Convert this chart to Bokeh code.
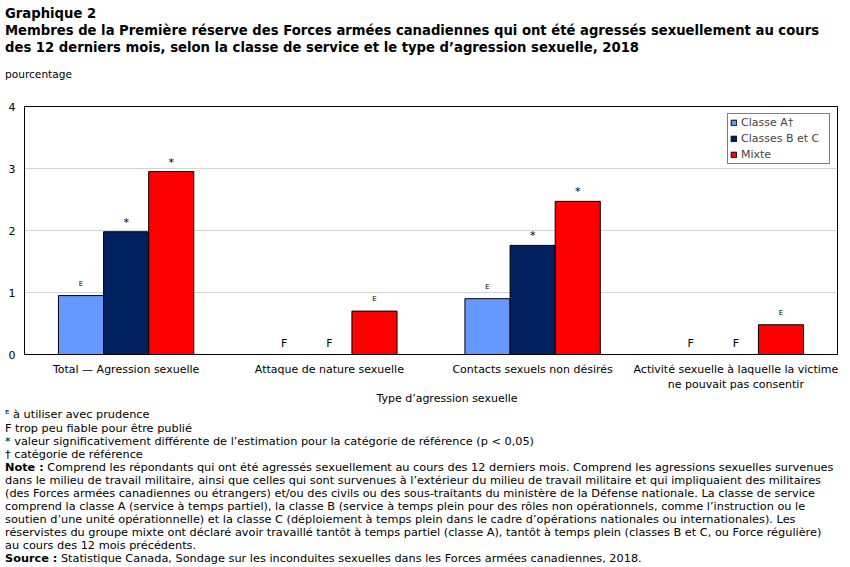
from bokeh.plotting import figure
from bokeh.models import ColumnDataSource, Legend, LegendItem, FactorRange, Div
from bokeh.transform import dodge
from bokeh.layouts import column
from bokeh.core.properties import value
from bokeh.embed import file_html
from bokeh.resources import INLINE
from html import escape
import math

# ---- data ----
categories = ["Total — Agression sexuelle", "Attaque de nature sexuelle",
              "Contacts sexuels non désirés",
              "Activité sexuelle à laquelle la victime\nne pouvait pas consentir"]
series_names = ["Classe A†", "Classes B et C", "Mixte"]
classe_a = [0.95, float("nan"), 0.90, float("nan")]
classes_bc = [1.98, float("nan"), 1.76, float("nan")]
mixte = [2.95, 0.70, 2.47, 0.48]
marks_a = ["E", "F", "E", "F"]
marks_bc = ["*", "F", "*", "F"]
marks_mixte = ["*", "E", "*", "E"]
y_ticks = [0, 1, 2, 3, 4]
x_title = "Type d’agression sexuelle"

colors = ["#6699ff", "#002060", "#ff0000"]
FONT = "DejaVu Sans"
W = 850

TOP_H = 90
MAIN_Y0, MAIN_Y1 = 90, 394
BOT_H = 567 - MAIN_Y1
FRAME_T, FRAME_B = 106, 354

p = figure(width=W, height=MAIN_Y1 - MAIN_Y0, x_range=FactorRange(*categories), y_range=(0, 4),
           output_backend="svg", toolbar_location=None,
           min_border_left=24, min_border_right=13,
           min_border_top=FRAME_T - MAIN_Y0, min_border_bottom=MAIN_Y1 - FRAME_B)
p.outline_line_color = "black"
p.outline_line_width = 1
p.background_fill_color = "white"
p.border_fill_color = "white"

p.xgrid.grid_line_color = None
p.ygrid.grid_line_color = "#d4d4d4"
p.ygrid.ticker = [1, 2, 3]

for ax in (p.xaxis, p.yaxis):
    ax.major_tick_line_color = None
    ax.minor_tick_line_color = None
    ax.major_tick_out = 0
    ax.major_tick_in = 0
    ax.minor_tick_out = 0
    ax.major_label_text_font = FONT
    ax.major_label_text_font_size = "11px"
    ax.major_label_text_color = "black"
    ax.axis_line_color = "black"
p.yaxis.ticker = y_ticks
p.yaxis.major_label_standoff = 9
p.xaxis.major_label_standoff = 8

bw = 0.222
offsets = [-bw, 0.0, bw]
all_vals = [classe_a, classes_bc, mixte]
all_marks = [marks_a, marks_bc, marks_mixte]
mark_style = {"E": ("7px", -8), "*": ("11px", -3), "F": ("11px", -5)}
items = []
for i, (name, vals, marks, col) in enumerate(zip(series_names, all_vals, all_marks, colors)):
    ly = [0 if math.isnan(v) else v for v in vals]
    src = ColumnDataSource(dict(cat=categories, top=vals))
    r = p.vbar(x=dodge("cat", offsets[i], range=p.x_range), top="top", width=bw, source=src,
               fill_color=col, line_color="black", line_width=1)
    items.append(LegendItem(label=name, renderers=[r]))
    for m, (fs, yo) in mark_style.items():
        sel = [k for k, mm in enumerate(marks) if mm == m]
        if not sel:
            continue
        s = ColumnDataSource(dict(cat=[categories[k] for k in sel], ly=[ly[k] for k in sel],
                                  mark=[m] * len(sel)))
        p.text(x=dodge("cat", offsets[i], range=p.x_range), y="ly", text="mark", source=s,
               text_align="center", text_baseline="bottom", y_offset=yo,
               text_font=value(FONT), text_font_size=value(fs), text_color="black")

legend = Legend(items=items, location="top_right", margin=7,
                border_line_color="black", border_line_width=1,
                label_text_font=FONT, label_text_font_size="11px",
                label_text_line_height=1.0,
                glyph_width=7, glyph_height=7, label_height=13, spacing=3,
                padding=2, label_standoff=4, label_width=86, background_fill_alpha=1)
p.add_layout(legend)


def line(x, yc, html_text, size, bold=False, lh=13, width=None, align="left"):
    top = yc - lh / 2
    w = f"width:{width}px;text-align:{align};" if width else ""
    return (f'<div style="position:absolute;left:{x}px;top:{top}px;{w}'
            f'font-family:\'{FONT}\';font-size:{size}px;font-weight:{"bold" if bold else "normal"};'
            f'line-height:{lh}px;white-space:nowrap;color:black;">{html_text}</div>')


def box(h, inner):
    return (f'<div style="position:relative;width:{W}px;height:{h}px;margin:0;padding:0;'
            f'overflow:visible;">{inner}</div>')


top_html = "".join([
    line(5, 13, "Graphique  2", 13.2, True, 15),
    line(5, 30, escape("Membres de la Première réserve des Forces armées canadiennes qui ont été agressés sexuellement au cours"), 13.2, True, 15),
    line(5, 47, escape("des 12 derniers mois, selon la classe de service et le type d’agression sexuelle, 2018"), 13.2, True, 15),
    line(5, 74, "pourcentage", 10.6),
])

o = MAIN_Y1
NS = 11.3
notes = [
    (414, "ᴱ à utiliser avec prudence"),
    (428, "F trop peu fiable pour être publié"),
    (441, "* valeur significativement différente de l’estimation pour la catégorie de référence (p < 0,05)"),
    (454, "† catégorie de référence"),
    (480, "dans le milieu de travail militaire, ainsi que celles qui sont survenues à l’extérieur du milieu de travail militaire et qui impliquaient des militaires"),
    (493, "(des Forces armées canadiennes ou étrangers) et/ou des civils ou des sous-traitants du ministère de la Défense nationale. La classe de service"),
    (506, "comprend la classe A (service à temps partiel), la classe B (service à temps plein pour des rôles non opérationnels, comme l’instruction ou le"),
    (519, "soutien d’une unité opérationnelle) et la classe C (déploiement à temps plein dans le cadre d’opérations nationales ou internationales). Les"),
    (532, "réservistes du groupe mixte ont déclaré avoir travaillé tantôt à temps partiel (classe A), tantôt à temps plein (classes B et C, ou Force régulière)"),
    (545, "au cours des 12 mois précédents."),
]
bot_parts = [line(297, 398.5 - o, escape(x_title), 11, lh=9, width=300, align="center")]
for y, t in notes:
    bot_parts.append(line(5, y - o, escape(t), NS))
bot_parts.append(line(5, 467 - o, "<b>Note :</b> " + escape("Comprend les répondants qui ont été agressés sexuellement au cours des 12 derniers mois. Comprend les agressions sexuelles survenues"), NS))
bot_parts.append(line(5, 558 - o, "<b>Source :</b> " + escape("Statistique Canada, Sondage sur les inconduites sexuelles dans les Forces armées canadiennes, 2018."), NS))

top = Div(text=box(TOP_H, top_html), width=W, height=TOP_H, margin=0)
bot = Div(text=box(BOT_H, "".join(bot_parts)), width=W, height=BOT_H, margin=0)

layout = column(top, p, bot, spacing=0)
open("out.html", "w").write(file_html(layout, INLINE))
